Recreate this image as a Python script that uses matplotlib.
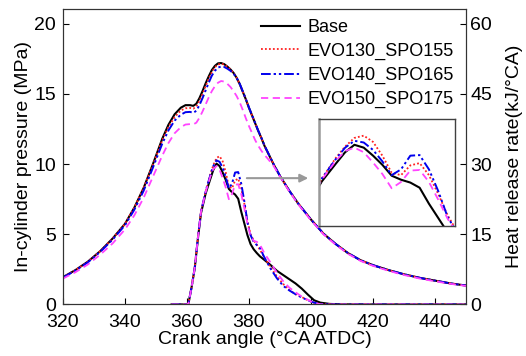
import matplotlib
matplotlib.use("Agg")
import matplotlib.pyplot as plt

plt.rcParams['font.family'] = ['Liberation Sans', 'DejaVu Sans']

# crank angle grid for in-cylinder pressure (deg CA ATDC)
ca_p = [320, 324, 328, 332, 336, 340, 343, 346, 349, 352, 354, 356, 358, 359.5, 361, 362, 363, 364,
        365, 366, 367, 368, 369, 370, 371, 372, 373, 374, 375, 376, 377, 378, 379, 380, 381, 382,
        383, 384, 385, 386, 388, 390, 393, 396, 400, 404, 408, 412, 416, 420, 425, 430, 435, 440, 445, 450]

p_base = [1.95, 2.45, 3.05, 3.8, 4.7, 5.75, 6.9, 8.3, 10.0, 11.8, 12.8, 13.55, 14.02, 14.2, 14.2, 14.15, 14.3, 14.7,
          15.2, 15.75, 16.25, 16.7, 17.0, 17.18, 17.2, 17.12, 16.95, 16.75, 16.5, 16.15, 15.7, 15.15, 14.6, 14.0, 13.45, 12.9,
          12.35, 11.85, 11.3, 10.85, 9.95, 9.15, 8.1, 7.15, 6.05, 5.05, 4.3, 3.65, 3.15, 2.8, 2.45, 2.15, 1.9, 1.7, 1.5, 1.35]
p_evo130 = [1.95, 2.45, 3.05, 3.8, 4.7, 5.75, 6.9, 8.3, 9.95, 11.7, 12.65, 13.35, 13.82, 13.98, 14.0, 13.95, 14.1, 14.5,
            15.0, 15.55, 16.1, 16.55, 16.9, 17.1, 17.15, 17.1, 16.95, 16.75, 16.5, 16.15, 15.7, 15.15, 14.6, 14.0, 13.45, 12.9,
            12.35, 11.85, 11.3, 10.85, 9.95, 9.15, 8.1, 7.15, 6.05, 5.05, 4.3, 3.65, 3.15, 2.8, 2.45, 2.15, 1.9, 1.7, 1.5, 1.35]
p_evo140 = [1.92, 2.42, 3.0, 3.75, 4.62, 5.65, 6.75, 8.1, 9.75, 11.45, 12.4, 13.1, 13.52, 13.7, 13.72, 13.65, 13.8, 14.2,
            14.7, 15.25, 15.8, 16.3, 16.65, 16.88, 16.95, 16.92, 16.8, 16.65, 16.45, 16.15, 15.72, 15.18, 14.62, 14.02, 13.47, 12.92,
            12.37, 11.87, 11.32, 10.87, 9.97, 9.15, 8.1, 7.15, 6.05, 5.05, 4.3, 3.65, 3.15, 2.8, 2.45, 2.15, 1.9, 1.7, 1.5, 1.35]
p_evo150 = [1.85, 2.3, 2.85, 3.55, 4.35, 5.35, 6.35, 7.6, 9.1, 10.6, 11.5, 12.2, 12.63, 12.82, 12.85, 12.83, 12.95, 13.3,
            13.75, 14.25, 14.75, 15.2, 15.55, 15.8, 15.92, 15.88, 15.72, 15.5, 15.2, 14.85, 14.4, 13.85, 13.25, 12.7, 12.2, 11.7,
            11.3, 10.95, 10.65, 10.4, 9.85, 9.1, 8.05, 7.1, 6.0, 5.0, 4.25, 3.6, 3.1, 2.75, 2.4, 2.1, 1.85, 1.65, 1.47, 1.32]

# crank angle grid for heat release rate
ca_h = [355, 360, 360.5, 361.5, 362.5, 363.5, 364.5, 366, 367.5, 368.5, 369.5, 370.5, 371.5, 372.5,
        373.5, 374.5, 375.5, 376.5, 377.5, 378.5, 379.5, 380.5, 381.5, 382.5, 383.5, 385, 387, 389,
        391, 393, 395, 397, 399, 401, 403, 406, 410, 420, 450]

h_base = [0, 0, 0.3, 3.8, 7.8, 14.0, 19.5, 23.7, 26.8, 28.8, 30.1, 29.6, 28.2, 26.6,
          24.7, 24.0, 23.5, 22.6, 19.8, 17.3, 14.8, 12.9, 11.8, 11.0, 10.3, 9.5, 8.4, 7.2,
          6.3, 5.4, 4.5, 3.4, 2.1, 0.9, 0.4, 0.12, 0.03, 0, 0]
h_evo130 = [0, 0, 0.3, 3.8, 7.9, 14.2, 19.8, 24.2, 27.8, 29.8, 31.3, 31.7, 30.6, 28.2,
            25.2, 24.8, 26.5, 26.9, 24.8, 21.5, 17.8, 15.0, 13.7, 12.8, 11.7, 10.0, 7.9, 6.0,
            4.4, 3.1, 2.2, 1.6, 0.9, 0.35, 0.1, 0, 0, 0, 0]
h_evo140 = [0, 0, 0.3, 3.8, 7.9, 14.2, 19.8, 24.2, 27.6, 29.6, 30.8, 30.5, 29.2, 27.2,
            24.8, 25.8, 28.2, 28.3, 25.8, 22.0, 17.5, 14.8, 13.4, 12.7, 12.1, 10.0, 7.6, 5.6,
            4.0, 3.0, 2.2, 1.5, 0.9, 0.4, 0.1, 0, 0, 0, 0]
h_evo150 = [0, 0, 0.3, 3.8, 7.9, 14.2, 19.8, 24.0, 27.3, 29.0, 29.6, 28.8, 27.0, 25.0,
            22.5, 23.6, 25.6, 25.7, 23.6, 20.5, 17.2, 14.6, 13.6, 13.4, 12.8, 10.9, 8.9, 6.8,
            5.0, 3.6, 2.6, 1.7, 1.0, 0.3, 0.05, 0, 0, 0, 0]

labels = ['Base', 'EVO130_SPO155', 'EVO140_SPO165', 'EVO150_SPO175']
styles = [dict(color='black', ls='-', lw=1.5),
          dict(color='#ff2020', ls=(0, (1, 1.2)), lw=1.3),
          dict(color='#0000ee', ls=(0, (5, 1.5, 1.2, 1.5, 1.2, 1.5)), lw=1.4),
          dict(color='#ff44ff', ls=(0, (4, 2.5)), lw=1.3)]
pressures = [p_base, p_evo130, p_evo140, p_evo150]
hrrs = [h_base, h_evo130, h_evo140, h_evo150]

fig = plt.figure(figsize=(5.26, 3.56), dpi=100)
ax = fig.add_axes([0.1198, 0.1447, 0.7662, 0.83])
ax2 = ax.twinx()

lines = []
for p, st, lab in zip(pressures, styles, labels):
    ln, = ax.plot(ca_p, p, label=lab, **st)
    lines.append(ln)
for h, st in zip(hrrs, styles):
    ax2.plot(ca_h, h, **st)

ax.set_xlim(320, 450)
ax.set_ylim(0, 21.05)
ax2.set_ylim(0, 63.15)
ax.set_xticks(range(320, 451, 20))
ax.set_yticks([0, 5, 10, 15, 20])
ax2.set_yticks([0, 15, 30, 45, 60])

for a in (ax, ax2):
    a.tick_params(direction='in', length=4, width=0.8, labelsize=14, pad=3)
    for s in a.spines.values():
        s.set_color('#333333')
ax.tick_params(axis='x', pad=7)
ax.tick_params(axis='y', pad=5)

ax.set_xlabel('Crank angle (°CA ATDC)', fontsize=14, labelpad=0)
ax.set_ylabel('In-cylinder pressure (MPa)', fontsize=14, labelpad=2)
ax2.set_ylabel('Heat release rate(kJ/°CA)', fontsize=14, labelpad=10)

ax2.legend(lines, labels, loc='upper right', frameon=False, fontsize=13,
           handlelength=2.2, handletextpad=0.4, labelspacing=0.38,
           borderaxespad=0.15, bbox_to_anchor=(0.995, 1.0))

# arrow pointing to the zoomed view
ax.annotate('', xy=(400.0, 9.0), xytext=(378.4, 9.0),
            arrowprops=dict(arrowstyle='-|>', color='#999999', lw=1.5, mutation_scale=12))

# inset: zoom on the heat release peaks
axin = fig.add_axes([0.6065, 0.365, 0.2586, 0.3006])
for h, st in zip(hrrs, styles):
    axin.plot(ca_h, h, **st)
axin.set_xlim(365.7, 380.3)
axin.set_ylim(15.9, 34.6)
axin.set_xticks([])
axin.set_yticks([])
for s in axin.spines.values():
    s.set_color('#404040')
    s.set_linewidth(1.0)
axin.spines['left'].set_color('#999999')
axin.spines['left'].set_linewidth(1.8)

fig.savefig('out.png', dpi=100)
